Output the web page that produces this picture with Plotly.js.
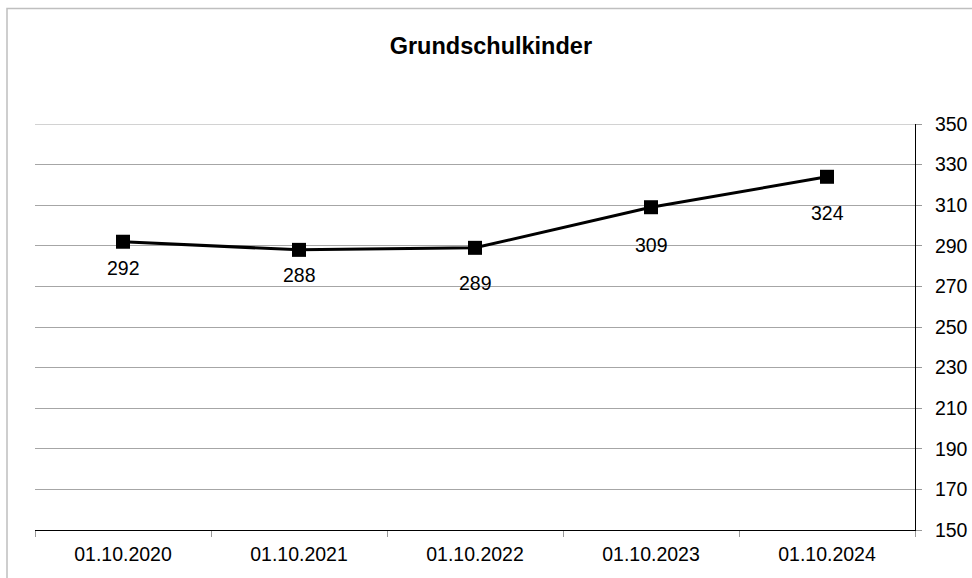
<!DOCTYPE html>
<html>
<head>
<meta charset="utf-8">
<script src="https://cdn.plot.ly/plotly-3.0.1.min.js"></script>
<style>html,body{margin:0;padding:0;background:#fff;}#chart{width:972px;height:578px;}</style>
</head>
<body>
<div id="chart"></div>
<script>
const categories = ["01.10.2020", "01.10.2021", "01.10.2022", "01.10.2023", "01.10.2024"];
const values = [292, 288, 289, 309, 324];
const yTicks = [150, 170, 190, 210, 230, 250, 270, 290, 310, 330, 350];

// label placement (pixels below the marker), style only
const labelOffsets = [26, 25, 35, 38, 36];

const font = "Liberation Sans, Arial, sans-serif";
const fs = 19.5;

const lineTrace = {
  x: categories,
  y: values,
  type: "scatter",
  mode: "lines+markers",
  line: {color: "#000", width: 3},
  marker: {symbol: "square", size: 14, color: "#000"},
  cliponaxis: false,
  hoverinfo: "skip"
};

const annotations = categories.map((c, i) => ({
  x: c, y: values[i], xref: "x", yref: "y",
  text: String(values[i]),
  showarrow: false,
  xanchor: "center", yanchor: "middle",
  yshift: -labelOffsets[i],
  font: {family: font, size: fs, color: "#000"}
}));

const layout = {
  width: 972,
  height: 578,
  margin: {l: 35, r: 57, t: 124, b: 48},
  paper_bgcolor: "#fff",
  plot_bgcolor: "#fff",
  showlegend: false,
  font: {family: font, size: fs, color: "#000"},
  title: {
    text: "<b>Grundschulkinder</b>",
    font: {family: font, size: 23.5, color: "#000"},
    x: 0.505, xanchor: "center",
    y: 0.921, yanchor: "middle"
  },
  xaxis: {
    type: "category",
    range: [-0.5, 4.5],
    tickson: "boundaries",
    ticks: "outside",
    ticklen: 6,
    tickcolor: "#999",
    ticklabelstandoff: 7,
    showgrid: false,
    showline: true,
    linecolor: "#000",
    linewidth: 1,
    tickfont: {family: font, size: fs, color: "#000"},
    fixedrange: true
  },
  yaxis: {
    side: "right",
    range: [150, 350],
    tickvals: yTicks,
    ticktext: yTicks.map(String),
    ticks: "outside",
    ticklen: 6,
    tickcolor: "#999",
    ticklabelstandoff: 9,
    showgrid: true,
    gridcolor: "#a6a6a6",
    gridwidth: 1,
    showline: true,
    linecolor: "#000",
    linewidth: 1,
    zeroline: false,
    tickfont: {family: font, size: fs, color: "#000"},
    fixedrange: true
  },
  annotations: annotations,
  shapes: [{
    type: "rect",
    xref: "paper", yref: "paper",
    x0: (7 - 35) / 880, x1: (980 - 35) / 880,
    y0: (530 - 590) / 406, y1: (530 - 8.5) / 406,
    line: {color: "#bfbfbf", width: 1.5},
    fillcolor: "rgba(0,0,0,0)",
    layer: "below"
  }, {
    type: "line",
    xref: "paper", yref: "y",
    x0: 0, x1: (921 - 35) / 880,
    y0: yTicks[yTicks.length - 1], y1: yTicks[yTicks.length - 1],
    line: {color: "#a6a6a6", width: 1},
    layer: "below"
  }]
};

Plotly.newPlot("chart", [lineTrace], layout, {displayModeBar: false, staticPlot: true});
</script>
</body>
</html>
